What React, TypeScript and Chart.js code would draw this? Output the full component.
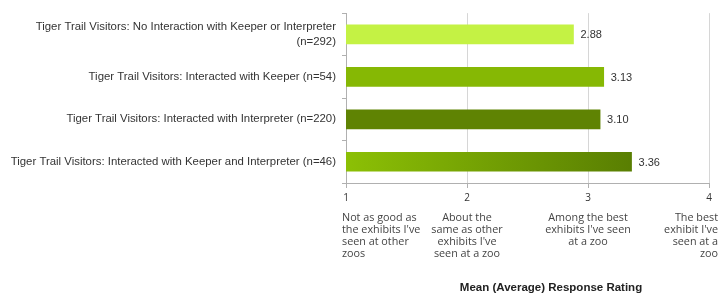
import React, { useEffect, useRef } from "react";
import { Chart, registerables } from "chart.js";

Chart.register(...registerables);

const categories: (string | string[])[] = [
  ["Tiger Trail Visitors: No Interaction with Keeper or Interpreter", "(n=292)"],
  "Tiger Trail Visitors: Interacted with Keeper (n=54)",
  "Tiger Trail Visitors: Interacted with Interpreter (n=220)",
  "Tiger Trail Visitors: Interacted with Keeper and Interpreter (n=46)",
];
const values = [2.88, 3.13, 3.1, 3.36];
const valueLabels = ["2.88", "3.13", "3.10", "3.36"];
const tickValues = [1, 2, 3, 4];
const tickDescriptions: string[][] = [
  ["Not as good as", "the exhibits I've", "seen at other", "zoos"],
  ["About the", "same as other", "exhibits I've", "seen at a zoo"],
  ["Among the best", "exhibits I've seen", "at a zoo"],
  ["The best", "exhibit I've", "seen at a", "zoo"],
];
const axisTitle = "Mean (Average) Response Rating";
const barColors = ["#c4f244", "#86b804", "#5f8303", "gradient"];

export default function App() {
  const ref = useRef<HTMLCanvasElement | null>(null);
  useEffect(() => {
    if (!ref.current) return;
    const labelPlugin = {
      id: "extras",
      afterDatasetsDraw(chart: any) {
        const ctx = chart.ctx;
        const meta = chart.getDatasetMeta(0);
        ctx.save();
        ctx.font = "11px 'Liberation Sans', Arial, sans-serif";
        ctx.fillStyle = "#333";
        ctx.textAlign = "left";
        ctx.textBaseline = "middle";
        meta.data.forEach((bar: any, i: number) => {
          ctx.fillText(valueLabels[i], bar.x + 7, bar.y + 1);
        });
        ctx.restore();
      },
      afterDraw(chart: any) {
        const ctx = chart.ctx;
        const xs = chart.scales.x;
        ctx.save();
        ctx.font = "10.8px 'Open Sans', sans-serif";
        ctx.fillStyle = "#444";
        ctx.textBaseline = "middle";
        tickDescriptions.forEach((lines, i) => {
          const px = xs.getPixelForValue(tickValues[i]);
          let x = px;
          if (i === 0) { ctx.textAlign = "left"; x = px - 4; }
          else if (i === tickDescriptions.length - 1) { ctx.textAlign = "right"; x = px + 9; }
          else ctx.textAlign = "center";
          lines.forEach((l, j) => ctx.fillText(l, x, 218 + j * 12));
        });
        ctx.font = "bold 11.5px 'Liberation Sans', Arial, sans-serif";
        ctx.fillStyle = "#222";
        ctx.textAlign = "center";
        ctx.fillText(axisTitle, 551, 288);
        ctx.restore();
      },
    };
    const chart = new Chart(ref.current, {
      type: "bar",
      data: {
        labels: categories,
        datasets: [
          {
            data: values,
            barThickness: 19,
            backgroundColor: (c: any) => {
              const col = barColors[c.dataIndex];
              if (col !== "gradient") return col;
              const area = c.chart.chartArea;
              if (!area) return "#78a800";
              const g = c.chart.ctx.createLinearGradient(area.left, 0, area.right * 0.9, 0);
              g.addColorStop(0, "#8cc005");
              g.addColorStop(1, "#587d02");
              return g;
            },
            borderWidth: 0,
          },
        ],
      },
      options: {
        indexAxis: "y",
        animation: false,
        responsive: true,
        maintainAspectRatio: false,
        layout: { padding: { top: 10, right: 10, left: 0, bottom: 0 } },
        plugins: { legend: { display: false }, tooltip: { enabled: false } },
        scales: {
          x: {
            min: 1,
            max: 4,
            afterFit(s: any) { s.height = 112; },
            ticks: {
              stepSize: 1,
              color: "#333",
              font: { size: 10, family: "'Open Sans', sans-serif" },
              padding: 4,
            },
            grid: { color: "#d6d6d6", tickLength: 5, tickColor: "#b0b0b0" },
            border: { color: "#b0b0b0" },
          },
          y: {
            afterFit(s: any) { s.width = 346; },
            ticks: {
              color: "#333",
              font: { size: 11.4, family: "'Liberation Sans', Arial, sans-serif", lineHeight: 1.25 },
              padding: 6,
            },
            grid: { drawOnChartArea: false, tickLength: 4, color: "#b0b0b0" },
            border: { color: "#b0b0b0" },
          },
        },
      },
      plugins: [labelPlugin],
    } as any);
    return () => chart.destroy();
  }, []);
  return (
    <div style={{ position: "fixed", left: 0, top: 0, width: 719, height: 295, background: "#fff" }}>
      <canvas ref={ref} />
    </div>
  );
}
